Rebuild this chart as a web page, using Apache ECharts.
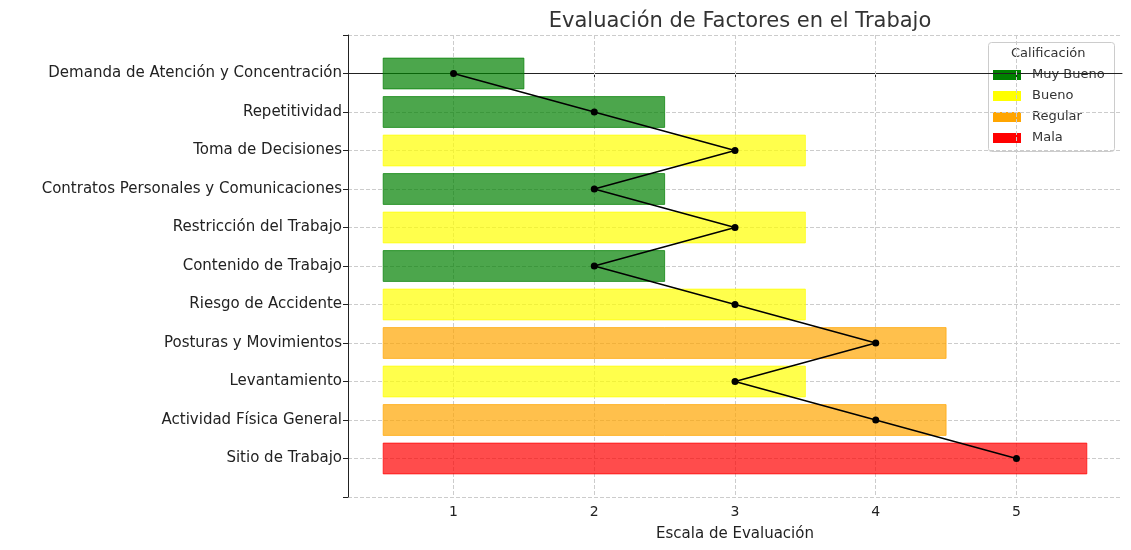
<!DOCTYPE html>
<html>
<head>
<meta charset="utf-8">
<script src="https://cdn.jsdelivr.net/npm/echarts@6/dist/echarts.min.js"></script>
<style>html,body{margin:0;padding:0;background:#fff}#chart{width:1131px;height:550px}</style>
</head>
<body>
<div id="chart"></div>
<script>
var factores = ['Demanda de Atención y Concentración', 'Repetitividad', 'Toma de Decisiones',
    'Contratos Personales y Comunicaciones', 'Restricción del Trabajo', 'Contenido de Trabajo',
    'Riesgo de Accidente', 'Posturas y Movimientos', 'Levantamiento', 'Actividad Física General',
    'Sitio de Trabajo'];
var puntajes = [1, 2, 3, 2, 3, 2, 3, 4, 3, 4, 5];
var niveles = ['Muy Bueno', 'Bueno', 'Regular', 'Mala'];
var coloresNivel = ['#008000', '#ffff00', '#ffa500', '#ff0000'];
var escala = [1, 2, 3, 4, 5];

function nivelDe(v) {
    if (v <= 2) return 0;
    if (v === 3) return 1;
    if (v === 4) return 2;
    return 3;
}

var chart = echarts.init(document.getElementById('chart'));
var fuente = 'DejaVu Sans';

var barras = puntajes.map(function (v, i) { return [v, i, nivelDe(v)]; });
var puntos = puntajes.map(function (v, i) { return [v, i]; });

// leyenda dibujada a mano, estilo matplotlib
var leyenda = [
    { type: 'rect', left: 988, top: 42, shape: { width: 126, height: 109, r: 3 },
      style: { fill: '#fff', stroke: '#cccccc', lineWidth: 1 } },
    { type: 'text', left: 1011, top: 47, style: { text: 'Calificación', font: '13px ' + fuente, fill: '#333' } }
];
niveles.forEach(function (n, i) {
    leyenda.push({ type: 'rect', left: 993, top: 70 + i * 21, shape: { width: 28, height: 10 },
        style: { fill: coloresNivel[i] } });
    leyenda.push({ type: 'text', left: 1032, top: 68 + i * 21,
        style: { text: n, font: '13px ' + fuente, fill: '#333' } });
});

var option = {
    textStyle: { fontFamily: fuente },
    title: {
        text: 'Evaluación de Factores en el Trabajo',
        left: 735, top: 6, textAlign: 'center',
        textStyle: { fontFamily: fuente, fontSize: 21, fontWeight: 'normal', color: '#333' }
    },
    grid: { left: 348, right: 9, top: 35, bottom: 53 },
    xAxis: {
        type: 'value', min: 0.25, max: 5.75,
        name: 'Escala de Evaluación', nameLocation: 'middle', nameGap: 30,
        nameTextStyle: { fontSize: 15, color: '#222' },
        axisLine: { lineStyle: { color: '#222' } },
        axisTick: { show: true, customValues: escala, lineStyle: { color: '#222' } },
        axisLabel: { customValues: escala, fontSize: 14, color: '#222' },
        splitLine: { show: false }
    },
    yAxis: {
        type: 'value', inverse: true, min: -1, max: 11, interval: 1,
        axisLine: { show: true, lineStyle: { color: '#222' } },
        axisTick: { show: true, lineStyle: { color: '#222' } },
        axisLabel: {
            fontSize: 15, color: '#222', margin: 6,
            formatter: function (v) { return factores[v] || ''; }
        },
        splitLine: { show: true, lineStyle: { color: '#cccccc', type: 'dashed' } }
    },
    graphic: leyenda,
    series: [{
        type: 'custom',
        data: barras,
        renderItem: function (params, api) {
            var idx = api.value(1);
            var a = api.coord([0.5, idx]);
            var b = api.coord([api.value(0) + 0.5, idx]);
            var h = api.size([0, 1])[1] * 0.8;
            var c = coloresNivel[api.value(2)];
            return {
                type: 'rect',
                shape: { x: a[0], y: a[1] - h / 2, width: b[0] - a[0], height: h },
                style: { fill: c, opacity: 0.7, stroke: c, lineWidth: 1 }
            };
        },
        z: 2
    }, {
        type: 'line',
        data: puntos,
        symbol: 'circle', symbolSize: 7,
        lineStyle: { color: '#000', width: 1.5 },
        itemStyle: { color: '#000' },
        z: 5,
        markLine: {
            silent: true, symbol: 'none', label: { show: false },
            lineStyle: { color: '#cccccc', type: 'dashed', width: 1 },
            data: escala.map(function (x) { return { xAxis: x }; }),
            z: 1
        }
    }]
};

chart.setOption(option);
</script>
</body>
</html>
